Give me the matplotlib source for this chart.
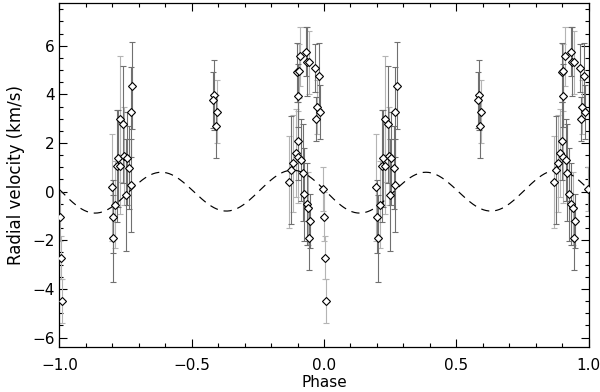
import numpy as np
import matplotlib
matplotlib.use("Agg")
import matplotlib.pyplot as plt
from matplotlib.ticker import MultipleLocator

# orbital phase (0..1), radial velocity (km/s), error, instrument (0 = dark, 1 = light)
phase = [0.275, 0.270, 0.229, 0.241, 0.222, 0.245, 0.254, 0.219, 0.229, 0.263,
         0.197, 0.269, 0.250, 0.211, 0.201, 0.203,
         0.585, 0.581, 0.594, 0.591,
         0.910, 0.932, 0.937, 0.943, 0.899, 0.905, 0.966, 0.982, 0.903, 0.975,
         0.985, 0.970, 0.901, 0.893, 0.903, 0.913, 0.884, 0.875, 0.919, 0.869,
         0.926, 0.935, 0.941, 0.948, 0.944,
         0.997, 0.001, 0.005, 0.009]
rv = [4.36, 3.27, 2.98, 2.77, 1.37, 1.47, 1.37, 1.07, 1.07, 0.99,
      0.18, 0.26, -0.12, -0.53, -1.03, -1.92,
      3.98, 3.77, 3.29, 2.68,
      5.56, 5.76, 5.35, 5.32, 4.90, 4.97, 5.08, 4.76, 3.95, 3.47,
      3.27, 2.98, 2.07, 1.58, 1.42, 1.30, 1.17, 0.89, 0.78, 0.39,
      -0.11, -0.51, -0.68, -1.20, -1.92,
      0.10, -1.03, -2.71, -4.50]
rv_err = [1.8, 1.85, 2.6, 2.4, 2.0, 2.0, 1.9, 2.3, 2.0, 1.7,
          2.2, 1.9, 2.3, 1.8, 1.5, 1.8,
          1.45, 1.15, 1.3, 1.3,
          1.2, 1.0, 1.4, 1.3, 1.2, 1.1, 1.0, 1.35, 1.3, 1.1,
          1.1, 0.9, 1.6, 1.8, 1.9, 1.7, 2.0, 2.2, 2.0, 1.9,
          1.9, 1.7, 1.5, 1.1, 1.3,
          0.9, 1.0, 0.9, 0.9]
instr = [0, 0, 1, 0, 0, 1, 0, 0, 1, 0,
         1, 0, 0, 1, 0, 0,
         0, 0, 1, 0,
         1, 0, 0, 1, 0, 1, 0, 0, 0, 1,
         0, 0, 0, 1, 1, 0, 1, 0, 0, 1,
         0, 0, 1, 0, 0,
         1, 1, 1, 1]

# model curve parameters
amp2, ph2 = 0.84, 0.383
amp1, ph1 = 0.06, 0.76

xticks = [-1, -0.5, 0, 0.5, 1]
xtick_labels = ['\u22121.0', '\u22120.5', '0.0', '0.5', '1.0']

phase = np.array(phase)
rv = np.array(rv)
rv_err = np.array(rv_err)
instr = np.array(instr)

plt.rcParams['font.family'] = ['DejaVu Sans']
fig = plt.figure(figsize=(6, 3.92), dpi=100)
ax = fig.add_axes([0.099, 0.114, 0.882, 0.878])

colors = {0: '#707070', 1: '#b4b4b4'}
for shift in (-1, 0):
    x = phase + shift
    for k in (1, 0):
        m = instr == k
        ax.errorbar(x[m], rv[m], yerr=rv_err[m], fmt='none', ecolor=colors[k],
                    elinewidth=0.8, capsize=2.2, capthick=0.8, zorder=2)

ph = np.linspace(-1, 1, 600)
model = amp2 * np.cos(4 * np.pi * (ph - ph2)) + amp1 * np.cos(2 * np.pi * (ph - ph1))
ax.plot(ph, model, color='black', lw=0.85, linestyle=(0, (7, 5)), zorder=3)

for shift in (-1, 0):
    ax.plot(phase + shift, rv, 'D', ms=3.6, mfc='white', mec='black', mew=0.8,
            zorder=4)

ax.set_xlim(-1, 1)
ax.set_ylim(-6.4, 7.75)
ax.xaxis.set_minor_locator(MultipleLocator(0.1))
ax.yaxis.set_major_locator(MultipleLocator(2))
ax.yaxis.set_minor_locator(MultipleLocator(0.5))
ax.tick_params(which='both', direction='in', top=True, right=True, labelsize=11)
ax.tick_params(which='major', length=6, width=0.8)
ax.tick_params(which='minor', length=3, width=0.8)
ax.tick_params(axis='x', pad=8)
for s in ax.spines.values():
    s.set_linewidth(0.9)
ax.set_xticks(xticks)
ax.set_xticklabels(xtick_labels)
ax.set_xlabel('Phase', fontsize=11, labelpad=1)
ax.set_ylabel('Radial velocity (km/s)', fontsize=12, labelpad=5)

fig.savefig('out.png', dpi=100)
